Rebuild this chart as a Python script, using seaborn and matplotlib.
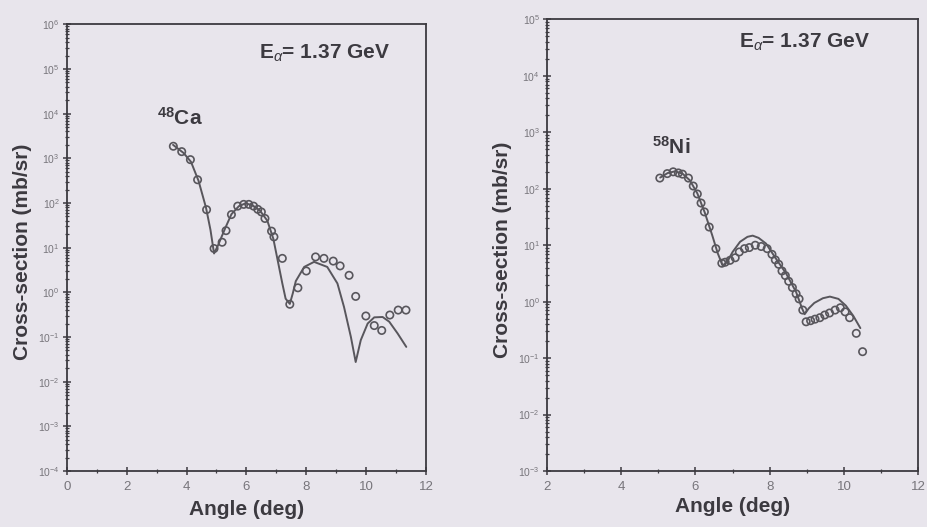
import matplotlib
matplotlib.use("Agg")
import matplotlib.pyplot as plt
import matplotlib.ticker as mticker
import pandas as pd
import seaborn as sns

# 48Ca elastic alpha scattering, measured points (deg, mb/sr)
ca_angle = [3.56, 3.84, 4.13, 4.37, 4.67, 4.92, 5.19, 5.32, 5.50, 5.71, 5.91, 6.08,
            6.24, 6.38, 6.50, 6.62, 6.84, 6.92, 7.20, 7.45, 7.72, 8.00, 8.31, 8.59,
            8.90, 9.13, 9.43, 9.65, 9.99, 10.27, 10.52, 10.79, 11.07, 11.33]
ca_xsec = [1860, 1410, 933, 331, 70.8, 9.55, 13.2, 24.0, 55.0, 85.0, 93.0, 93.0,
           85.0, 72.0, 63.0, 45.0, 23.4, 17.4, 5.75, 0.54, 1.26, 3.0, 6.2, 5.75,
           5.0, 3.9, 2.4, 0.81, 0.295, 0.18, 0.14, 0.31, 0.40, 0.40]

# 48Ca calculated cross section
ca_fit_angle = [3.55, 3.90, 4.15, 4.40, 4.65, 4.80, 4.92, 5.05, 5.30, 5.50, 5.75, 5.97,
                6.20, 6.45, 6.70, 6.90, 7.05, 7.20, 7.31, 7.45, 7.55, 7.65, 7.93, 8.26,
                8.70, 9.04, 9.26, 9.49, 9.65, 9.82, 10.05, 10.27, 10.55, 10.77, 11.05, 11.34]
ca_fit_xsec = [2000, 1320, 832, 316, 79, 25, 7.4, 11.2, 28, 56, 85, 98,
               89, 68, 40, 15.8, 5.0, 1.58, 0.72, 0.55, 0.95, 1.78, 3.7, 4.8,
               3.7, 1.58, 0.47, 0.10, 0.0275, 0.085, 0.20, 0.275, 0.28, 0.22, 0.12, 0.060]

# 58Ni elastic alpha scattering, measured points (deg, mb/sr)
ni_angle = [5.04, 5.24, 5.40, 5.54, 5.65, 5.81, 5.94, 6.05, 6.15, 6.24, 6.37, 6.55,
            6.71, 6.80, 6.93, 7.07, 7.18, 7.32, 7.45, 7.61, 7.77, 7.93, 8.06, 8.15,
            8.24, 8.33, 8.42, 8.51, 8.61, 8.71, 8.79, 8.89, 8.98, 9.10, 9.22, 9.35,
            9.48, 9.61, 9.76, 9.90, 10.03, 10.15, 10.33, 10.50]
ni_xsec = [155, 186, 200, 191, 182, 155, 112, 81, 56, 39, 21, 8.7,
           4.8, 5.0, 5.4, 6.0, 7.6, 8.7, 9.1, 10.0, 9.5, 8.7, 6.9, 5.5,
           4.6, 3.5, 2.9, 2.3, 1.78, 1.38, 1.12, 0.71, 0.44, 0.46, 0.49, 0.52,
           0.58, 0.63, 0.71, 0.78, 0.66, 0.52, 0.275, 0.13]

# 58Ni calculated cross section
ni_fit_angle = [5.05, 5.25, 5.45, 5.65, 5.85, 6.05, 6.25, 6.45, 6.60, 6.73, 6.85, 7.00,
                7.20, 7.40, 7.54, 7.70, 7.90, 8.17, 8.44, 8.71, 8.87, 8.94, 9.05, 9.20,
                9.43, 9.62, 9.85, 10.05, 10.25, 10.44]
ni_fit_xsec = [158, 190, 204, 186, 141, 83, 38, 15.1, 7.2, 4.4, 5.0, 7.6,
               11.5, 14.1, 14.8, 13.5, 10.7, 5.75, 3.16, 1.48, 0.76, 0.60, 0.76, 0.95,
               1.15, 1.23, 1.12, 0.85, 0.56, 0.34]

# decade ranges of the two y axes (exponents)
ca_decades = (-4, 6)
ni_decades = (-3, 5)

energy_label = "E$_{α}$= 1.37 GeV"
nucleus_labels = [r"$^{\mathbf{48}}$Ca", r"$^{\mathbf{58}}$Ni"]
x_label = "Angle (deg)"
y_label = "Cross-section (mb/sr)"

BG = "#e8e5ec"
INK = "#3c3a40"
LINE = "#58565c"
TICKTXT = "#77757b"

sns.set_theme(style="ticks", rc={
    "figure.facecolor": BG,
    "axes.facecolor": BG,
    "axes.edgecolor": INK,
    "axes.linewidth": 1.3,
    "savefig.facecolor": BG,
})
plt.rcParams["font.family"] = ["Liberation Sans", "DejaVu Sans"]
plt.rcParams["mathtext.fontset"] = "custom"
plt.rcParams["mathtext.rm"] = "Liberation Sans"
plt.rcParams["mathtext.it"] = "Liberation Sans:italic"
plt.rcParams["mathtext.bf"] = "Liberation Sans:bold"

fig = plt.figure(figsize=(9.27, 5.27), dpi=100)
ax1 = fig.add_axes([0.072, 0.1063, 0.3876, 0.8476])
ax2 = fig.add_axes([0.590, 0.1063, 0.4006, 0.8567])

panels = [
    (ax1, ca_angle, ca_xsec, ca_fit_angle, ca_fit_xsec, (0, 12), ca_decades,
     nucleus_labels[0], (0.252, 0.79), (0.534, 0.936), -0.097, -0.064),
    (ax2, ni_angle, ni_xsec, ni_fit_angle, ni_fit_xsec, (2, 12), ni_decades,
     nucleus_labels[1], (0.283, 0.718), (0.518, 0.950), -0.095, -0.057),
]

for (ax, xa, ya, xf, yf, xlim, dec, nuc, nuc_pos, e_pos, ylab_x, xlab_y) in panels:
    fit = pd.DataFrame({"angle": xf, "xsec": yf})
    meas = pd.DataFrame({"angle": xa, "xsec": ya})
    sns.lineplot(data=fit, x="angle", y="xsec", ax=ax, color=LINE, lw=1.4,
                 sort=False, estimator=None)
    sns.scatterplot(data=meas, x="angle", y="xsec", ax=ax, marker="o", s=28,
                    facecolors="none", edgecolor=LINE, linewidth=1.2, zorder=3)
    ax.set_yscale("log")
    ax.set_xlim(*xlim)
    ax.set_ylim(10.0 ** dec[0], 10.0 ** dec[1])
    majors = [10.0 ** k for k in range(dec[0], dec[1] + 1)]
    minors = [m * 10.0 ** k for k in range(dec[0], dec[1]) for m in range(2, 10)]
    ax.yaxis.set_major_locator(mticker.FixedLocator(majors))
    ax.yaxis.set_major_formatter(mticker.LogFormatterSciNotation())
    ax.yaxis.set_minor_locator(mticker.FixedLocator(minors))
    ax.yaxis.set_minor_formatter(mticker.NullFormatter())
    ax.xaxis.set_major_locator(mticker.MultipleLocator(2))
    ax.xaxis.set_minor_locator(mticker.MultipleLocator(1))
    ax.tick_params(which="major", direction="inout", length=6, width=1.1, color=INK,
                   labelcolor=TICKTXT)
    ax.tick_params(which="minor", direction="inout", length=3.5, width=0.9, color=INK)
    ax.tick_params(axis="y", which="major", labelsize=7.5, pad=2)
    ax.tick_params(axis="x", which="major", labelsize=9.5, pad=4)
    for sp in ax.spines.values():
        sp.set_visible(True)
        sp.set_color(INK)
    ax.set_xlabel(x_label, fontsize=15, fontweight="bold", color=INK)
    ax.set_ylabel(y_label, fontsize=15, fontweight="bold", color=INK)
    ax.yaxis.set_label_coords(ylab_x, 0.49)
    ax.xaxis.set_label_coords(0.5, xlab_y)
    ax.xaxis.label.set_va("top")
    ax.text(*e_pos, energy_label, transform=ax.transAxes, fontsize=15,
            fontweight="bold", color=INK, va="center", ha="left")
    ax.text(*nuc_pos, nuc, transform=ax.transAxes, fontsize=15,
            fontweight="bold", color=INK, va="center", ha="left")

fig.savefig("out.png", dpi=100, facecolor=BG)
